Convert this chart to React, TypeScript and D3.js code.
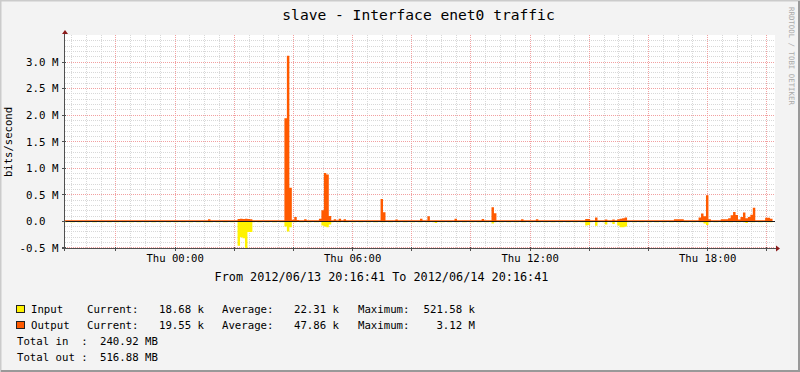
import React, { useRef, useEffect } from "react";
import * as d3 from "d3";

const title = "slave - Interface enet0 traffic";
const yAxisTitle = "bits/second";
const watermark = "RRDTOOL / TOBI OETIKER";
const periodText = "From 2012/06/13 20:16:41 To 2012/06/14 20:16:41";

const startTime = Date.UTC(2012, 5, 13, 20, 16, 41);
const endTime = Date.UTC(2012, 5, 14, 20, 16, 41);
const stepMinutes = 5;

// output, k bits/second, 5 minute samples, one row per hour
const outputK = [
  19, 20, 18, 19, 21, 20, 19, 18, 20, 19, 20, 21,
  19, 18, 20, 19, 19, 21, 20, 18, 19, 20, 19, 18,
  20, 19, 21, 19, 18, 20, 19, 20, 18, 19, 21, 20,
  19, 18, 19, 20, 21, 19, 18, 20, 19, 20, 18, 19,
  20, 19, 18, 21, 19, 20, 19, 18, 20, 19, 40, 20,
  19, 18, 20, 19, 21, 20, 19, 18, 20, 19, 45, 50,
  45, 50, 45, 40, 20, 19, 18, 20, 19, 21, 20, 19,
  18, 20, 19, 21, 20, 1940, 3120, 630, 30, 80, 25, 20,
  19, 40, 20, 19, 18, 20, 19, 50, 210, 910, 880, 100,
  20, 40, 19, 50, 20, 40, 19, 18, 20, 19, 21, 20,
  19, 18, 20, 19, 21, 20, 19, 18, 420, 170, 20, 19,
  18, 20, 35, 19, 21, 20, 19, 18, 20, 19, 21, 20,
  50, 19, 18, 95, 20, 19, 21, 20, 19, 18, 20, 19,
  21, 20, 50, 19, 18, 20, 19, 21, 20, 19, 18, 20,
  19, 45, 20, 19, 18, 265, 150, 20, 19, 21, 20, 19,
  18, 20, 19, 21, 20, 40, 19, 18, 20, 19, 21, 40,
  20, 19, 18, 20, 19, 21, 20, 19, 18, 20, 19, 21,
  20, 19, 18, 20, 19, 21, 20, 45, 45, 20, 19, 70,
  20, 19, 18, 35, 20, 19, 35, 21, 40, 50, 60, 70,
  20, 19, 18, 20, 19, 21, 20, 19, 18, 20, 19, 21,
  20, 19, 18, 20, 19, 21, 20, 40, 40, 40, 40, 20,
  19, 18, 20, 19, 21, 70, 145, 95, 490, 40, 20, 19,
  18, 20, 40, 40, 40, 60, 115, 175, 120, 35, 80, 165,
  60, 80, 125, 255, 20, 19, 18, 20, 65, 65, 50, 20,
];

// input, k bits/second (drawn below zero)
const inputK = [
  16, 15, 17, 16, 15, 16, 17, 15, 16, 16, 15, 17,
  16, 15, 16, 17, 15, 16, 16, 15, 17, 16, 15, 16,
  17, 15, 16, 16, 15, 17, 16, 15, 16, 17, 15, 16,
  16, 15, 17, 16, 15, 16, 17, 15, 16, 16, 15, 17,
  16, 15, 16, 17, 15, 16, 16, 15, 17, 16, 18, 16,
  15, 17, 16, 15, 16, 17, 15, 16, 16, 15, 460, 300,
  320, 521.58, 200, 200, 16, 15, 17, 16, 15, 16, 17, 15,
  16, 16, 15, 17, 16, 100, 190, 110, 17, 16, 15, 16,
  17, 15, 16, 16, 15, 17, 16, 15, 80, 100, 110, 60,
  16, 15, 17, 16, 15, 16, 17, 15, 16, 16, 15, 17,
  16, 15, 16, 17, 15, 16, 16, 15, 17, 16, 15, 16,
  17, 15, 16, 16, 15, 17, 16, 15, 16, 17, 15, 16,
  16, 15, 17, 16, 15, 16, 30, 15, 16, 16, 15, 17,
  16, 15, 16, 17, 15, 16, 16, 15, 17, 16, 15, 16,
  17, 15, 16, 16, 15, 40, 16, 15, 16, 17, 15, 16,
  16, 15, 17, 16, 15, 16, 17, 15, 16, 16, 15, 17,
  16, 15, 16, 17, 15, 16, 16, 15, 17, 16, 15, 16,
  17, 15, 16, 16, 15, 17, 16, 80, 70, 17, 15, 85,
  16, 15, 17, 60, 15, 16, 50, 15, 80, 110, 110, 100,
  16, 15, 17, 16, 15, 16, 17, 15, 16, 16, 15, 17,
  16, 15, 16, 17, 15, 16, 16, 15, 17, 16, 15, 16,
  17, 15, 16, 16, 15, 16, 17, 40, 70, 16, 15, 16,
  16, 15, 17, 16, 15, 16, 17, 15, 16, 16, 15, 17,
  30, 15, 16, 17, 15, 16, 16, 15, 17, 16, 19, 19,
];

const yTicks = [-0.5, 0, 0.5, 1, 1.5, 2, 2.5, 3];
const yTickLabels = ["-0.5 M", "0.0  ", "0.5 M", "1.0 M", "1.5 M", "2.0 M", "2.5 M", "3.0 M"];

const seriesNames = ["Input", "Output"];
const currentValues = ["18.68 k", "19.55 k"];
const averageValues = ["22.31 k", "47.86 k"];
const maximumValues = ["521.58 k", "3.12 M"];
const totalLabels = ["Total in  :", "Total out :"];
const totalValues = ["240.92 MB", "516.88 MB"];

const colors = ["#FFF200", "#FF5A00"];
const mono = "'DejaVu Sans Mono', monospace";

const App = () => {
  const ref = useRef<SVGSVGElement>(null);

  useEffect(() => {
    const width = 800;
    const height = 372;
    const left = 65;
    const right = 775;
    const top = 35;
    const bottom = 248;

    const svg = d3.select(ref.current).attr("width", width).attr("height", height);
    svg.selectAll("*").remove();

    // background + shaded frame
    svg.append("rect").attr("width", width).attr("height", height).attr("fill", "#F3F3F3");
    svg.append("path").attr("d", `M0.5,${height} V0.5 H${width}`).attr("fill", "none").attr("stroke", "#CBCBCB").attr("stroke-width", 2);
    svg.append("path").attr("d", `M1,${height - 1} H${width - 1} V1`).attr("fill", "none").attr("stroke", "#999999").attr("stroke-width", 2);

    const x = d3.scaleUtc().domain([startTime, endTime]).range([left, right]);
    const y = d3.scaleLinear().domain([-0.5, 3.51]).range([247.85, top]);
    const px = (v: number) => Math.floor(v) + 0.5;

    svg.append("rect").attr("x", left).attr("y", top).attr("width", right - left).attr("height", bottom - top).attr("fill", "#ffffff");

    const grid = svg.append("g").attr("shape-rendering", "crispEdges");

    // minor grid
    const minorY = d3.range(-5, 36).map((d) => d / 10).filter((d) => Math.round(d * 10) % 5 !== 0);
    grid.selectAll(".hmin").data(minorY).enter().append("line")
      .attr("x1", left).attr("x2", right)
      .attr("y1", (d) => px(y(d))).attr("y2", (d) => px(y(d)))
      .attr("stroke", "#d8d8d8").attr("stroke-dasharray", "1,1");
    const minorX = x.ticks(d3.utcMinute.every(30)).filter((d) => d.getUTCMinutes() !== 0 || d.getUTCHours() % 2 !== 0);
    grid.selectAll(".vmin").data(minorX).enter().append("line")
      .attr("x1", (d) => px(x(d))).attr("x2", (d) => px(x(d)))
      .attr("y1", top).attr("y2", bottom)
      .attr("stroke", "#d8d8d8").attr("stroke-dasharray", "1,1");

    // major grid
    grid.selectAll(".hmaj").data(yTicks).enter().append("line")
      .attr("x1", left).attr("x2", right)
      .attr("y1", (d) => px(y(d))).attr("y2", (d) => px(y(d)))
      .attr("stroke", "#f2a0a0").attr("stroke-dasharray", "1,1");
    const majorX = x.ticks(d3.utcHour.every(2));
    grid.selectAll(".vmaj").data(majorX).enter().append("line")
      .attr("x1", (d) => px(x(d))).attr("x2", (d) => px(x(d)))
      .attr("y1", top).attr("y2", bottom)
      .attr("stroke", "#f2a0a0").attr("stroke-dasharray", "1,1");

    // data
    const t = (i: number) => startTime + i * stepMinutes * 60000;
    const outArea = d3.area<number>()
      .x((d, i) => x(t(i)))
      .y0(y(0))
      .y1((d) => y(d / 1000))
      .curve(d3.curveStepAfter);
    const inArea = d3.area<number>()
      .x((d, i) => x(t(i)))
      .y0(y(0))
      .y1((d) => y(-d / 1000))
      .curve(d3.curveStepAfter);

    svg.append("path").datum(outputK).attr("d", outArea).attr("fill", colors[1]);
    svg.append("path").datum(inputK).attr("d", inArea).attr("fill", colors[0]);

    // zero line
    svg.append("line")
      .attr("x1", left).attr("x2", right)
      .attr("y1", px(y(0))).attr("y2", px(y(0)))
      .attr("stroke", "#1a1a1a").attr("stroke-width", 1)
      .attr("shape-rendering", "crispEdges");

    // axes
    const axisColor = "#505050";
    const arrowColor = "#8b1a1a";
    svg.append("line").attr("x1", px(left) - 1).attr("x2", px(left) - 1).attr("y1", top - 3).attr("y2", bottom + 3)
      .attr("stroke", axisColor).attr("shape-rendering", "crispEdges");
    svg.append("line").attr("x1", left - 3).attr("x2", right + 4).attr("y1", bottom + 0.5).attr("y2", bottom + 0.5)
      .attr("stroke", axisColor).attr("shape-rendering", "crispEdges");
    svg.append("path").attr("d", `M${left - 3},${top - 1} L${left},${top - 5} L${left + 3},${top - 1} Z`).attr("fill", arrowColor);
    svg.append("path").attr("d", `M${right + 1},${bottom - 2.5} L${right + 5},${bottom + 0.5} L${right + 1},${bottom + 3.5} Z`).attr("fill", arrowColor);

    // ticks on axes
    svg.selectAll(".yt").data(yTicks).enter().append("line")
      .attr("x1", left - 3).attr("x2", left + 1)
      .attr("y1", (d) => px(y(d))).attr("y2", (d) => px(y(d)))
      .attr("stroke", axisColor).attr("shape-rendering", "crispEdges");
    svg.selectAll(".xt").data(majorX).enter().append("line")
      .attr("x1", (d) => px(x(d))).attr("x2", (d) => px(x(d)))
      .attr("y1", bottom - 1).attr("y2", bottom + 3)
      .attr("stroke", axisColor).attr("shape-rendering", "crispEdges");

    // y tick labels
    svg.selectAll(".yl").data(yTicks).enter().append("text")
      .attr("x", 58.5).attr("y", (d) => y(d)).attr("dy", "0.36em")
      .attr("text-anchor", "end")
      .style("white-space", "pre")
      .style("font-family", mono).style("font-size", "10.8px").style("fill", "#000")
      .text((d, i) => yTickLabels[i]);

    // x tick labels
    const fmt = d3.utcFormat("%a %H:%M");
    svg.selectAll(".xl").data(x.ticks(d3.utcHour.every(6))).enter().append("text")
      .attr("x", (d) => x(d)).attr("y", 261.5)
      .attr("text-anchor", "middle")
      .style("font-family", mono).style("font-size", "10.6px").style("fill", "#000")
      .text((d) => fmt(d));

    // titles
    svg.append("text").attr("x", 418.5).attr("y", 20).attr("text-anchor", "middle")
      .style("font-family", mono).style("font-size", "14.6px").style("fill", "#000")
      .text(title);
    svg.append("text").attr("transform", "translate(12,142) rotate(-90)").attr("text-anchor", "middle")
      .style("font-family", mono).style("font-size", "10.6px").style("fill", "#000")
      .text(yAxisTitle);
    svg.append("text").attr("transform", "translate(788.5,7) rotate(90)").attr("text-anchor", "start")
      .style("font-family", mono).style("font-size", "7.4px").style("fill", "#aaaaaa")
      .text(watermark);
    svg.append("text").attr("x", 381.5).attr("y", 280.5).attr("text-anchor", "middle")
      .style("font-family", mono).style("font-size", "11.8px").style("fill", "#000")
      .text(periodText);

    // legend
    const legend = svg.append("g").style("font-family", mono).style("font-size", "10.7px").style("fill", "#000");
    seriesNames.forEach((name, i) => {
      const by = 313 + i * 16;
      legend.append("rect").attr("x", 16.5).attr("y", by - 7.5).attr("width", 8).attr("height", 7)
        .attr("fill", colors[i]).attr("stroke", "#222").attr("stroke-width", 1);
      legend.append("text").attr("x", 31).attr("y", by).text(name);
      legend.append("text").attr("x", 87).attr("y", by).text("Current:");
      legend.append("text").attr("x", 204).attr("y", by).attr("text-anchor", "end").text(currentValues[i]);
      legend.append("text").attr("x", 222).attr("y", by).text("Average:");
      legend.append("text").attr("x", 339).attr("y", by).attr("text-anchor", "end").text(averageValues[i]);
      legend.append("text").attr("x", 358).attr("y", by).text("Maximum:");
      legend.append("text").attr("x", 475).attr("y", by).attr("text-anchor", "end").text(maximumValues[i]);
    });
    totalLabels.forEach((label, i) => {
      const by = 345 + i * 16;
      legend.append("text").attr("x", 17).attr("y", by).style("white-space", "pre").text(label);
      legend.append("text").attr("x", 100).attr("y", by).text(totalValues[i]);
    });
  }, []);

  return (
    <div style={{ position: "absolute", left: 0, top: 0 }}>
      <svg ref={ref} style={{ display: "block" }}></svg>
    </div>
  );
};

export default App;
